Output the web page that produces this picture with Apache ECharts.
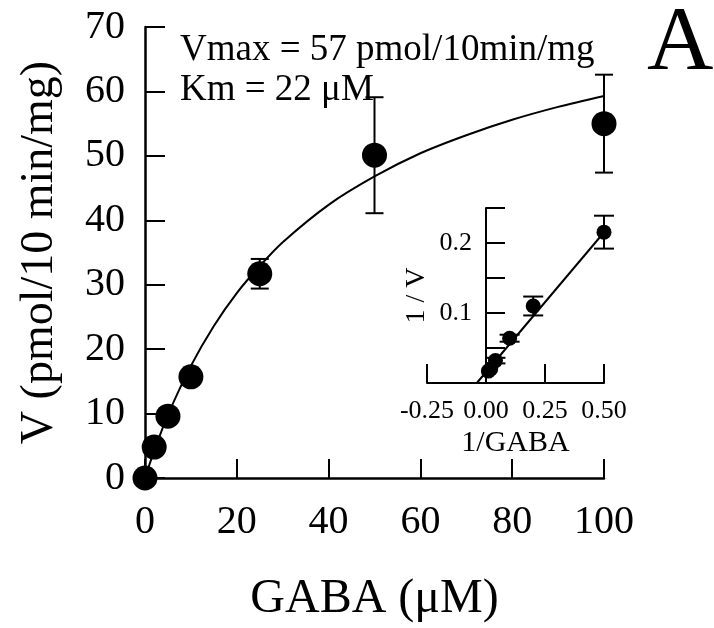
<!DOCTYPE html>
<html>
<head>
<meta charset="utf-8">
<script src="https://cdn.jsdelivr.net/npm/echarts@6/dist/echarts.min.js"></script>
<style>
  html, body { margin: 0; padding: 0; background: #fff; }
  #chart { width: 714px; height: 628px; }
</style>
</head>
<body>
<div id="chart"></div>
<script>
// GABA uptake kinetics: saturation curve with a Lineweaver-Burk inset

// Main panel: measured velocities
const gaba = [0, 2, 5, 10, 25, 50, 100];
const velocity = [0, 4.8, 9.6, 15.7, 31.7, 50.1, 55.0];
const velocityErr = [0, 0, 0, 0, 2.3, 9.0, 7.6];

// Main panel: fitted saturation curve, read along its length
const curveX = [0, 2, 5, 10, 15, 20, 25, 30, 40, 50, 60, 70, 80, 90, 100];
const curveY = [0, 4.2, 9.8, 17.4, 23.6, 28.7, 32.9, 36.6, 42.4, 46.8, 50.4, 53.2, 55.6, 57.6, 59.3];

// Main panel ticks
const mainXTicks = [0, 20, 40, 60, 80, 100];
const mainYTicks = [0, 10, 20, 30, 40, 50, 60, 70];

// Inset: double-reciprocal plot
const invGaba = [0.5, 0.2, 0.1, 0.04, 0.02, 0.01];
const invVelocity = [0.2155, 0.110, 0.064, 0.032, 0.020, 0.017];
const invVelocityErr = [0.0235, 0.0135, 0.005, 0.004, 0, 0];
const invLineX = [-0.039, 0.517];
const invLineY = [0, 0.222];

// Inset ticks
const insetXTicks = [-0.25, 0, 0.25, 0.5];
const insetXLabels = ['-0.25', '0.00', '0.25', '0.50'];
const insetYLabelled = [0.1, 0.2];

const FONT = 'Liberation Serif';
const INK = '#000';

// Inset grid geometry; the inset's vertical axis sits at 1/GABA = 0
const insetLeft = 427, insetRight = 110;
const insetXMin = -0.25, insetXMax = 0.5;
const insetWidth = 714 - insetLeft - insetRight;
const insetYAxisShift = (0 - insetXMin) / (insetXMax - insetXMin) * insetWidth;

function errorBarRenderer(capHalf, lw) {
  return function (params, api) {
    const x = api.value(0), lo = api.value(1), hi = api.value(2);
    if (hi - lo <= 0) return null;
    const a = api.coord([x, lo]);
    const b = api.coord([x, hi]);
    const st = { stroke: INK, lineWidth: lw };
    return {
      type: 'group',
      children: [
        { type: 'line', shape: { x1: a[0], y1: a[1], x2: b[0], y2: b[1] }, style: st },
        { type: 'line', shape: { x1: a[0] - capHalf, y1: a[1], x2: a[0] + capHalf, y2: a[1] }, style: st },
        { type: 'line', shape: { x1: b[0] - capHalf, y1: b[1], x2: b[0] + capHalf, y2: b[1] }, style: st }
      ]
    };
  };
}

const chart = echarts.init(document.getElementById('chart'), null, { renderer: 'canvas' });

const axisLineStyle = { color: INK, width: 2.5 };

chart.setOption({
  backgroundColor: '#fff',
  animation: false,
  textStyle: { fontFamily: FONT, color: INK },
  grid: [
    { left: 145, right: 110, top: 27, bottom: 150, containLabel: false },
    { left: insetLeft, right: insetRight, top: 208, bottom: 245, containLabel: false }
  ],
  xAxis: [
    {
      gridIndex: 0, type: 'value', min: 0, max: 100, interval: 20,
      name: 'GABA (\u03bcM)', nameLocation: 'middle', nameGap: 97,
      nameTextStyle: { fontFamily: FONT, fontSize: 48, color: INK },
      axisLine: { show: true, lineStyle: axisLineStyle },
      axisTick: { show: true, inside: true, length: 19, lineStyle: { color: INK, width: 2 } },
      axisLabel: {
        fontFamily: FONT, fontSize: 40, color: INK, margin: 24,
        formatter: v => mainXTicks.includes(v) ? String(v) : ''
      },
      splitLine: { show: false }
    },
    {
      gridIndex: 1, type: 'value', min: insetXMin, max: insetXMax, interval: 0.25,
      name: '1/GABA', nameLocation: 'middle', nameGap: 45,
      nameTextStyle: { fontFamily: FONT, fontSize: 30, color: INK },
      axisLine: { show: true, lineStyle: { color: INK, width: 2 } },
      axisTick: { show: true, inside: true, length: 19, lineStyle: { color: INK, width: 2 } },
      axisLabel: {
        fontFamily: FONT, fontSize: 26, color: INK, margin: 15,
        formatter: v => {
          const i = insetXTicks.findIndex(t => Math.abs(t - v) < 1e-9);
          return i >= 0 ? insetXLabels[i] : '';
        }
      },
      splitLine: { show: false }
    }
  ],
  yAxis: [
    {
      gridIndex: 0, type: 'value', min: 0, max: 70, interval: 10,
      name: 'V (pmol/10 min/mg)', nameLocation: 'middle', nameGap: 82, nameRotate: 90,
      nameTextStyle: { fontFamily: FONT, fontSize: 46, color: INK },
      axisLine: { show: true, lineStyle: axisLineStyle },
      axisTick: { show: true, inside: true, length: 20, lineStyle: { color: INK, width: 2 } },
      axisLabel: {
        fontFamily: FONT, fontSize: 40, color: INK, margin: 20,
        formatter: v => mainYTicks.includes(v) ? String(v) : ''
      },
      splitLine: { show: false }
    },
    {
      gridIndex: 1, type: 'value', min: 0, max: 0.25, interval: 0.05,
      position: 'left', offset: -insetYAxisShift,
      name: '1 / V', nameLocation: 'middle', nameGap: 55, nameRotate: 90,
      nameTextStyle: { fontFamily: FONT, fontSize: 28, color: INK },
      axisLine: { show: true, onZero: false, lineStyle: { color: INK, width: 2 } },
      axisTick: { show: true, inside: true, length: 19, lineStyle: { color: INK, width: 2 } },
      axisLabel: {
        fontFamily: FONT, fontSize: 26, color: INK, margin: 14,
        formatter: v => insetYLabelled.some(t => Math.abs(t - v) < 1e-9) ? String(+v.toFixed(2)) : ''
      },
      splitLine: { show: false }
    }
  ],
  series: [
    {
      type: 'line', xAxisIndex: 0, yAxisIndex: 0, smooth: 0.3,
      showSymbol: false, silent: true, z: 2,
      lineStyle: { color: INK, width: 2 },
      data: curveX.map((x, i) => [x, curveY[i]])
    },
    {
      type: 'custom', xAxisIndex: 0, yAxisIndex: 0, z: 3,
      renderItem: errorBarRenderer(9, 2),
      data: gaba.map((x, i) => [x, velocity[i] - velocityErr[i], velocity[i] + velocityErr[i]])
    },
    {
      type: 'scatter', xAxisIndex: 0, yAxisIndex: 0, z: 4,
      symbol: 'circle', symbolSize: 25,
      itemStyle: { color: INK, opacity: 1 },
      data: gaba.map((x, i) => [x, velocity[i]])
    },
    {
      type: 'line', xAxisIndex: 1, yAxisIndex: 1,
      showSymbol: false, silent: true, z: 2,
      lineStyle: { color: INK, width: 2 },
      data: invLineX.map((x, i) => [x, invLineY[i]])
    },
    {
      type: 'custom', xAxisIndex: 1, yAxisIndex: 1, z: 3,
      renderItem: errorBarRenderer(10, 2),
      data: invGaba.map((x, i) => [x, invVelocity[i] - invVelocityErr[i], invVelocity[i] + invVelocityErr[i]])
    },
    {
      type: 'scatter', xAxisIndex: 1, yAxisIndex: 1, z: 4,
      symbol: 'circle', symbolSize: 15,
      itemStyle: { color: INK, opacity: 1 },
      data: invGaba.map((x, i) => [x, invVelocity[i]])
    }
  ],
  graphic: [
    {
      type: 'text', left: 180, top: 49.5 - 18, z: 10,
      style: { text: 'Vmax = 57 pmol/10min/mg', font: '37px "Liberation Serif"', fill: INK }
    },
    {
      type: 'text', left: 180, top: 90 - 18, z: 10,
      style: { text: 'Km = 22 \u03bcM', font: '37px "Liberation Serif"', fill: INK }
    },
    {
      type: 'text', left: 647, top: 43.5 - 45, z: 10,
      style: { text: 'A', font: '92px "Liberation Serif"', fill: INK }
    }
  ]
});
</script>
</body>
</html>
